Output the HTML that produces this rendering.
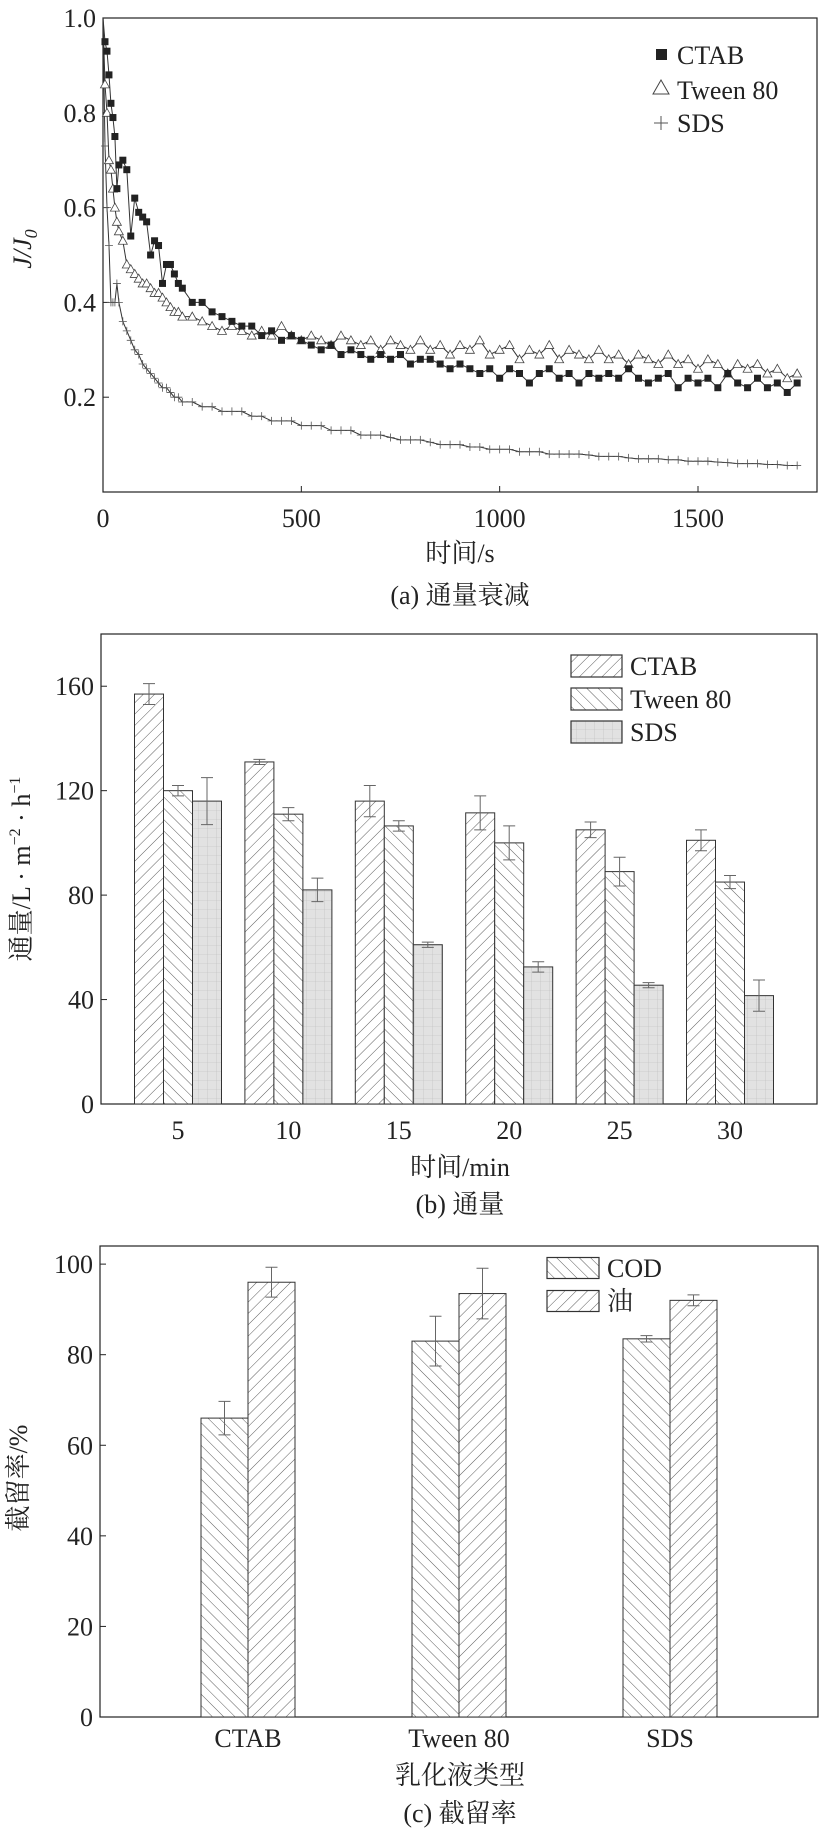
<!DOCTYPE html>
<html><head><meta charset="utf-8">
<style>
body{margin:0;background:#fff}
svg{display:block;font-family:"Liberation Serif","Noto Serif CJK SC",serif}
</style></head>
<body>
<svg id="fig" width="826" height="1840" viewBox="0 0 826 1840" xmlns="http://www.w3.org/2000/svg">
<defs>
<pattern id="hf" width="8" height="8" patternUnits="userSpaceOnUse" patternTransform="rotate(45)"><rect width="8" height="8" fill="#fff"/><line x1="0" y1="0" x2="0" y2="8" stroke="#333" stroke-width="0.8"/></pattern>
<pattern id="hb" width="8" height="8" patternUnits="userSpaceOnUse" patternTransform="rotate(-45)"><rect width="8" height="8" fill="#fff"/><line x1="0" y1="0" x2="0" y2="8" stroke="#333" stroke-width="0.8"/></pattern>
<pattern id="hg" width="9" height="9" patternUnits="userSpaceOnUse"><rect width="9" height="9" fill="#e2e2e2"/><path d="M0 0H9M0 0V9" stroke="#bbb" stroke-width="0.6"/></pattern>
</defs>
<g id="ca"></g>
<g id="cb"></g>
<g id="cc"></g>
</svg>
<script>
// ---- Chart (a) data ----
const timesA=[5,10,15,20,25,30,35,40,50,60,70,80,90,100,110,120,130,140,150,160,170,180,190,200,225,250,275,300,325,350,375,400,425,450,475,500,525,550,575,600,625,650,675,700,725,750,775,800,825,850,875,900,925,950,975,1000,1025,1050,1075,1100,1125,1150,1175,1200,1225,1250,1275,1300,1325,1350,1375,1400,1425,1450,1475,1500,1525,1550,1575,1600,1625,1650,1675,1700,1725,1750];
const ctabA=[0.95,0.93,0.88,0.82,0.79,0.75,0.64,0.69,0.70,0.68,0.54,0.62,0.59,0.58,0.57,0.50,0.53,0.52,0.44,0.48,0.48,0.46,0.44,0.43,
0.40,0.40,0.38,0.37,0.36,0.35,0.35,0.33,0.34,0.32,0.33,0.32,0.31,0.30,0.31,0.29,0.30,0.29,0.28,0.29,0.28,0.29,0.27,0.28,0.28,0.27,0.26,0.27,0.26,0.25,0.26,0.24,0.26,0.25,0.23,0.25,0.26,0.24,0.25,0.23,0.25,0.24,0.25,0.24,0.26,0.24,0.23,0.24,0.25,0.22,0.24,0.23,0.24,0.22,0.25,0.23,0.22,0.24,0.22,0.23,0.21,0.23];
const tweenA=[0.86,0.80,0.70,0.68,0.64,0.60,0.57,0.55,0.53,0.48,0.47,0.46,0.45,0.44,0.44,0.43,0.42,0.42,0.41,0.40,0.39,0.38,0.38,0.37,
0.37,0.36,0.35,0.34,0.35,0.34,0.33,0.34,0.33,0.35,0.33,0.32,0.33,0.32,0.31,0.33,0.32,0.31,0.32,0.30,0.32,0.31,0.30,0.32,0.30,0.31,0.29,0.31,0.30,0.32,0.29,0.30,0.31,0.28,0.30,0.29,0.31,0.28,0.30,0.29,0.28,0.30,0.28,0.29,0.27,0.29,0.28,0.27,0.29,0.27,0.28,0.26,0.28,0.27,0.25,0.27,0.26,0.27,0.25,0.26,0.24,0.25];
const sdsA=[0.73,0.60,0.52,0.40,0.40,0.40,0.44,0.40,0.36,0.34,0.32,0.30,0.29,0.27,0.26,0.25,0.24,0.23,0.22,0.22,0.21,0.20,0.20,0.19,
0.19,0.18,0.18,0.17,0.17,0.17,0.16,0.16,0.15,0.15,0.15,0.14,0.14,0.14,0.13,0.13,0.13,0.12,0.12,0.12,0.115,0.11,0.11,0.11,0.105,0.10,0.10,0.10,0.095,0.095,0.09,0.09,0.09,0.085,0.085,0.085,0.08,0.08,0.08,0.08,0.078,0.075,0.075,0.075,0.072,0.07,0.07,0.07,0.068,0.068,0.065,0.065,0.065,0.063,0.062,0.06,0.06,0.06,0.058,0.058,0.056,0.056];
const xTicksA=[0,500,1000,1500];
const yTicksA=[0.2,0.4,0.6,0.8,1.0];
const yTickLabelsA=["0.2","0.4","0.6","0.8","1.0"];
// ---- Chart (b) data ----
const catsB=["5","10","15","20","25","30"];
const ctabB=[157,131,116,111.5,105,101];
const ctabErrB=[4,1,6,6.5,3,4];
const tweenB=[120,111,106.5,100,89,85];
const tweenErrB=[2,2.5,2,6.5,5.5,2.5];
const sdsB=[116,82,61,52.5,45.5,41.5];
const sdsErrB=[9,4.5,1,2,1,6];
const yTicksB=[0,40,80,120,160];
// ---- Chart (c) data ----
const catsC=["CTAB","Tween 80","SDS"];
const codC=[66,83,83.5];
const codErrC=[3.7,5.5,0.7];
const oilC=[96,93.5,92];
const oilErrC=[3.3,5.6,1.2];
const yTicksC=[0,20,40,60,80,100];

const NS="http://www.w3.org/2000/svg";
function mk(parent,tag,attrs,text){const e=document.createElementNS(NS,tag);for(const k in attrs)e.setAttribute(k,attrs[k]);if(text!==undefined)e.textContent=text;parent.appendChild(e);return e;}

// ===== Chart (a) =====
(function(){
const g=document.getElementById('ca');
const L=103,R=817,T=18,B=492;
const xS=v=>L+v/1800*(R-L), yS=v=>B-v*(B-T);
let f=mk(g,'rect',{x:L,y:T,width:R-L,height:B-T,fill:'none',stroke:'#222','stroke-width':1.2});


xTicksA.forEach(v=>{
 let l=mk(g,'line',{x1:xS(v),x2:xS(v),y1:B,y2:B-6,stroke:'#222'});
 
 
 let t=mk(g,'text',{x:xS(v),y:527,'font-size':26,'text-anchor':'middle',fill:'#222'},String(v));
 
 
});
yTicksA.forEach((v,i)=>{
 let l=mk(g,'line',{x1:L,x2:L+6,y1:yS(v),y2:yS(v),stroke:'#222'});
 
 
 let t=mk(g,'text',{x:L-7,y:yS(v)+9,'font-size':26,'text-anchor':'end',fill:'#222'},yTickLabelsA[i]);
 
 
});
function series(vals,name,marker){
 const sg=mk(g,'g',{});
 
 
 const n=Math.min(vals.length,timesA.length);
 let d='M'+xS(0)+' '+yS(1);
 for(let i=0;i<n;i++)d+=' L'+xS(timesA[i]).toFixed(1)+' '+yS(vals[i]).toFixed(1);
 mk(sg,'path',{d:d,fill:'none',stroke:'#333','stroke-width':1});
 for(let i=0;i<n;i++){
  const x=xS(timesA[i]),y=yS(vals[i]);let m;
  if(marker==='sq')m=mk(sg,'rect',{x:x-3.5,y:y-3.5,width:7,height:7,fill:'#222'});
  else if(marker==='tri')m=mk(sg,'path',{d:`M${x} ${y-4.5}L${x+4.5} ${y+3.5}L${x-4.5} ${y+3.5}Z`,fill:'#fff',stroke:'#444','stroke-width':0.8});
  else m=mk(sg,'path',{d:`M${x-4} ${y}H${x+4}M${x} ${y-4}V${y+4}`,stroke:'#555','stroke-width':0.8});
  
  
 }
}
series(sdsA,'sds-series','plus');
series(tweenA,'tween80-series','tri');
series(ctabA,'ctab-series','sq');
const lg=mk(g,'g',{});


let m1=mk(lg,'rect',{x:656,y:49,width:11,height:11,fill:'#222'});


let m2=mk(lg,'path',{d:'M661 80L669 94L653 94Z',fill:'#fff',stroke:'#444'});


let m3=mk(lg,'path',{d:'M654 123H668M661 116V130',stroke:'#555'});


[["CTAB",64],["Tween 80",99],["SDS",132]].forEach(([s,y])=>{
 let t=mk(lg,'text',{x:677,y:y,'font-size':26,fill:'#222'},s);
 
 
});
let yl=mk(g,'text',{transform:'translate(31 249) rotate(-90)','font-size':26,'text-anchor':'middle','font-style':'italic',fill:'#222'});


yl.innerHTML='J/J<tspan font-size="18" dy="6">0</tspan>';
let xl=mk(g,'text',{x:460,y:562,'font-size':26,'text-anchor':'middle',fill:'#222'},"时间/s");


let cp=mk(g,'text',{x:460,y:604,'font-size':26,'text-anchor':'middle',fill:'#222'},"(a) 通量衰减");


})();

function barChart(gid,o){
const g=document.getElementById(gid);
const {L,R,T,B,ymax}=o;
const yS=v=>B-v/ymax*(B-T);
let f=mk(g,'rect',{x:L,y:T,width:R-L,height:B-T,fill:'none',stroke:'#222','stroke-width':1.2});


o.yTicks.forEach(v=>{
 let l=mk(g,'line',{x1:L,x2:L+6,y1:yS(v),y2:yS(v),stroke:'#222'});
 
 
 let t=mk(g,'text',{x:L-7,y:yS(v)+9,'font-size':26,'text-anchor':'end',fill:'#222'},String(v));
 
 
});
const ns=o.series.length;
o.cats.forEach((c,i)=>{
 const cx=o.c0+i*o.step;
 o.series.forEach((s,j)=>{
  const x=cx+(j-(ns-1)/2)*o.bw-o.bw/2+(o.shift||0);
  const v=s.vals[i];
  let r=mk(g,'rect',{x:x,y:yS(v),width:o.bw,height:B-yS(v),fill:s.fill,stroke:'#333','stroke-width':1});
  
  
  const ex=x+o.bw/2,e=s.err[i];
  let eb=mk(g,'path',{d:`M${ex} ${yS(v+e)}V${yS(v-e)}M${ex-6} ${yS(v+e)}H${ex+6}M${ex-6} ${yS(v-e)}H${ex+6}`,stroke:'#666','stroke-width':1,fill:'none'});
  
  
 });
 let t=mk(g,'text',{x:cx+(o.lblShift||0),y:o.tickY,'font-size':26,'text-anchor':'middle',fill:'#222'},c);
 
 
});
const lg=mk(g,'g',{});


o.series.forEach((s,j)=>{
 const y=o.legY+j*o.legStep;
 let r=mk(lg,'rect',{x:o.legX,y:y-o.legH/2,width:o.legW,height:o.legH,fill:s.fill,stroke:'#333','stroke-width':1.2});
 
 
 let t=mk(lg,'text',{x:o.legX+o.legW+8,y:y+9,'font-size':26,fill:'#222'},s.label);
 
 
});
let yl=mk(g,'text',{transform:`translate(${o.ylX} ${o.ylY}) rotate(-90)`,'font-size':26,'text-anchor':'middle',fill:'#222'});


yl.innerHTML=o.ylabel;
let xl=mk(g,'text',{x:460,y:o.xlY,'font-size':26,'text-anchor':'middle',fill:'#222'},o.xlabel);


let cp=mk(g,'text',{x:460,y:o.capY,'font-size':26,'text-anchor':'middle',fill:'#222'},o.caption);


}

barChart('cb',{L:101,R:817,T:634,B:1104,ymax:180,yTicks:yTicksB,cats:catsB,c0:178,step:110.4,bw:29,
 series:[{key:'ctab',label:'CTAB',vals:ctabB,err:ctabErrB,fill:'url(#hf)'},{key:'tween80',label:'Tween 80',vals:tweenB,err:tweenErrB,fill:'url(#hb)'},{key:'sds',label:'SDS',vals:sdsB,err:sdsErrB,fill:'url(#hg)'}],
 tickY:1139,legX:571,legW:51,legH:22,legY:666,legStep:33,
 ylX:30,ylY:869,ylabel:'通量/L · m<tspan font-size="16" dy="-10">−2</tspan><tspan dy="10"> · h</tspan><tspan font-size="16" dy="-10">−1</tspan>',
 xlabel:'时间/min',xlY:1176,caption:'(b) 通量',capY:1213});

barChart('cc',{L:100,R:818,T:1246,B:1717,ymax:104,yTicks:yTicksC,cats:catsC,c0:248,step:211,bw:47,
 series:[{key:'cod',label:'COD',vals:codC,err:codErrC,fill:'url(#hb)'},{key:'oil',label:'油',vals:oilC,err:oilErrC,fill:'url(#hf)'}],
 tickY:1747,legX:547,legW:52,legH:21,legY:1268,legStep:33,
 ylX:27,ylY:1478,ylabel:'截留率/%',xlabel:'乳化液类型',xlY:1784,caption:'(c) 截留率',capY:1822});
</script>
</body></html>
